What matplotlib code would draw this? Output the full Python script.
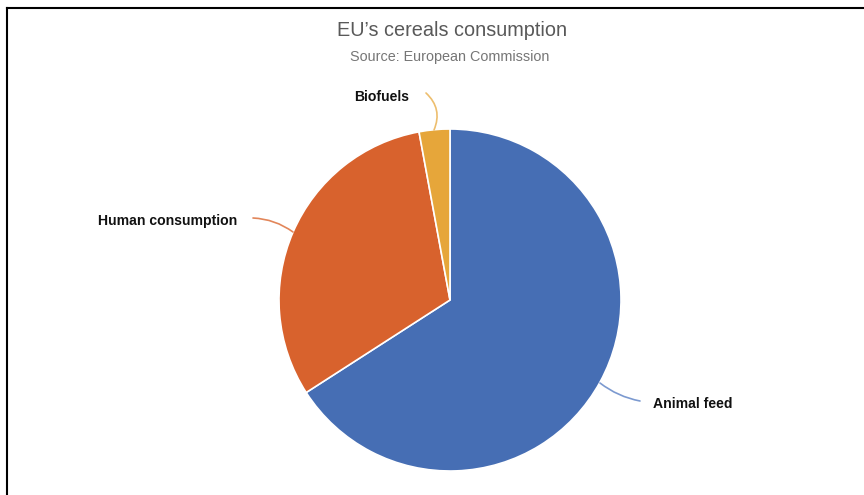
import matplotlib
matplotlib.use("Agg")
import matplotlib.pyplot as plt
from matplotlib.lines import Line2D

labels = ["Animal feed", "Human consumption", "Biofuels"]
shares = [65.9, 31.2, 2.9]
colors = ["#466EB4", "#D8622D", "#E6A63A"]
line_colors = ["#7C9AD0", "#E2865A", "#EDBE6E"]

plt.rcParams["font.family"] = ["Liberation Sans", "DejaVu Sans"]

W, H = 864, 495
fig = plt.figure(figsize=(W / 100, H / 100), dpi=100)
ax = fig.add_axes([0, 0, 1, 1])

# pie in pixel-like coords (y measured from bottom)
cx, cy, r = 450, H - 300, 171
ax.pie(shares, colors=colors, startangle=90, counterclock=False,
       center=(cx, cy), radius=r, frame=True,
       wedgeprops=dict(edgecolor="white", linewidth=1.2))
ax.set_xlim(0, W)
ax.set_ylim(0, H)
ax.set_aspect("equal")
ax.axis("off")

# leader lines + labels (slice, line start on slice, line end, text pos, ha, curve)
leaders = [
    (0, (600, 383), (640, 401), (653, 404), "left", 0.12),
    (1, (293, 232), (253, 218), (237, 221), "right", 0.15),
    (2, (434, 130), (426, 93), (382, 97), "center", 0.35),
]
for i, p0, p1, tp, ha, rad in leaders:
    ax.annotate("", xy=(p1[0], H - p1[1]), xytext=(p0[0], H - p0[1]),
                arrowprops=dict(arrowstyle="-", color=line_colors[i], lw=1.2,
                                shrinkA=0, shrinkB=0,
                                connectionstyle=f"arc3,rad={rad}"))
    ax.text(tp[0], H - tp[1], labels[i], ha=ha, va="center",
            fontsize=10.1, fontweight="bold", color="#111111")

fig.text(452 / W, 1 - 31 / H, "EU\u2019s cereals consumption", ha="center", va="center",
         fontsize=14.3, color="#595959")
fig.text(450 / W, 1 - 57 / H, "Source: European Commission", ha="center", va="center",
         fontsize=10.4, color="#767676")

# frame lines at top and left
fig.add_artist(Line2D([7 / W, 1], [1 - 8 / H, 1 - 8 / H], color="black", lw=1.5))
fig.add_artist(Line2D([7 / W, 7 / W], [0, 1 - 8 / H], color="black", lw=1.5))

fig.savefig("out.png", dpi=100)
